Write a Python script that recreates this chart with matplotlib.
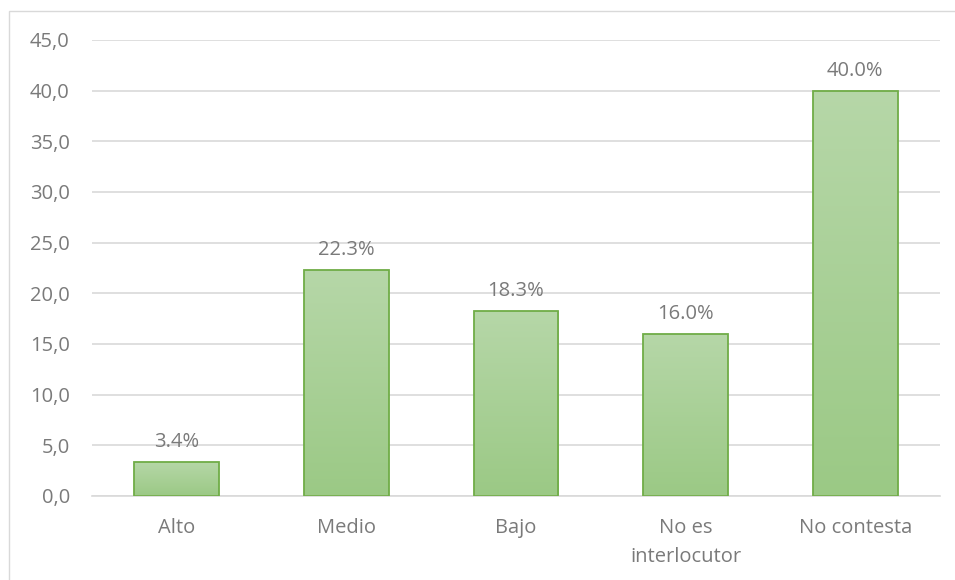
import matplotlib
matplotlib.use("Agg")
import matplotlib.pyplot as plt
import numpy as np
from matplotlib.colors import LinearSegmentedColormap
from matplotlib.patches import Rectangle

categories = ["Alto", "Medio", "Bajo", "No es\ninterlocutor", "No contesta"]
values = [3.4, 22.3, 18.3, 16.0, 40.0]
labels = ["3.4%", "22.3%", "18.3%", "16.0%", "40.0%"]
yticks = [0, 5, 10, 15, 20, 25, 30, 35, 40, 45]
ytick_labels = ["0,0", "5,0", "10,0", "15,0", "20,0", "25,0", "30,0", "35,0", "40,0", "45,0"]

plt.rcParams['font.family'] = ['Open Sans', 'DejaVu Sans']
txt = '#7a7a7a'
fs = 14.5

fig = plt.figure(figsize=(9.55, 5.8), dpi=100)
# outer frame
fig.patches.append(Rectangle((9/955, 1 - 600/580), 1.2, 1 - 11/580 - (1 - 600/580),
                             transform=fig.transFigure, fill=False, edgecolor='#d9d9d9', lw=1))
ax = fig.add_axes([92/955, 1 - 496/580, 848/955, 456/580])

cmap = LinearSegmentedColormap.from_list('g', ['#9bc985', '#b6d7a8'])
x = np.arange(len(categories))
bars = ax.bar(x, values, width=0.5, color='none', edgecolor='#70ad47', linewidth=1.3, zorder=3)
grad = np.linspace(0, 1, 256).reshape(-1, 1)
for b in bars:
    x0, w, h = b.get_x(), b.get_width(), b.get_height()
    im = ax.imshow(grad, cmap=cmap, aspect='auto', origin='lower',
                   extent=[x0, x0 + w, 0, h], zorder=2)
    im.set_clip_path(b)
ax.set_xlim(-0.5, len(categories) - 0.5)
ax.set_ylim(0, 45)

for xi, v, l in zip(x, values, labels):
    ax.annotate(l, (xi, v), xytext=(0, 7), textcoords='offset points',
                ha='center', va='bottom', fontsize=fs, color=txt)

ax.set_yticks(yticks)
ax.set_yticklabels(ytick_labels)
ax.set_xticks(x)
ax.set_xticklabels(categories, linespacing=1.6)
ax.tick_params(axis='both', length=0, labelsize=fs, labelcolor=txt)
ax.tick_params(axis='y', pad=16)
ax.tick_params(axis='x', pad=16)
ax.grid(axis='y', color='#d9d9d9', lw=1.2, zorder=0)
ax.set_axisbelow(True)
for s in ['top', 'right', 'left']:
    ax.spines[s].set_visible(False)
ax.spines['bottom'].set_color('#d9d9d9')
ax.spines['bottom'].set_linewidth(1.2)

fig.savefig('out.png', dpi=100)
